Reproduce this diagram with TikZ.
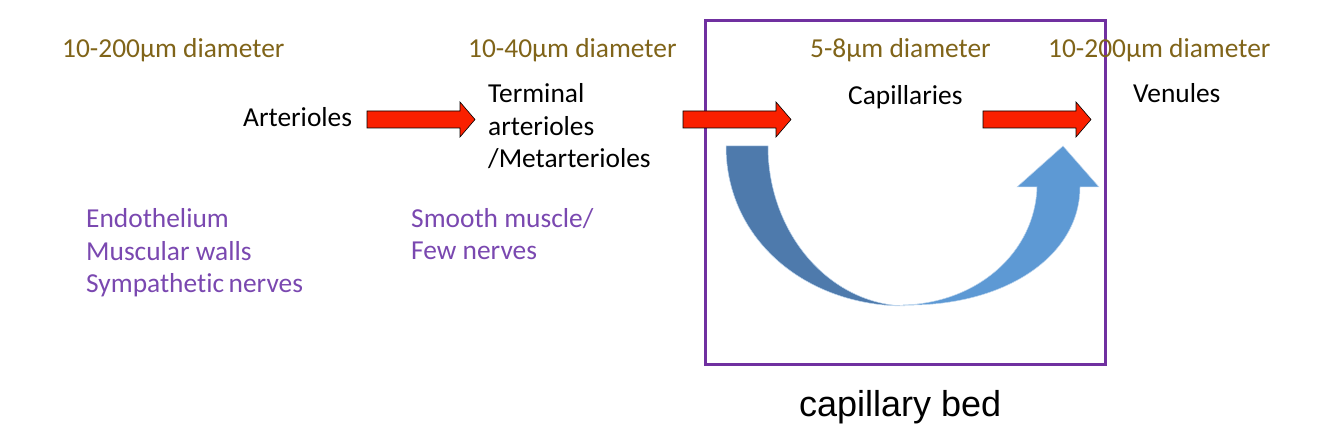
\documentclass[tikz,border=0pt]{standalone}
\usepackage{fontspec}
\setmainfont{Carlito}[Ligatures=NoCommon]
\newfontfamily\arialfont{Liberation Sans}
\usetikzlibrary{positioning}
\definecolor{diamgold}{RGB}{128,100,25}
\definecolor{wallpurple}{RGB}{122,72,176}
\definecolor{bedpurple}{RGB}{112,48,160}
\definecolor{flowred}{RGB}{250,32,0}
\definecolor{backblue}{RGB}{78,122,172}
\definecolor{frontblue}{RGB}{93,153,212}

\begin{document}
\begin{tikzpicture}[x=1pt,y=-1pt,
		txt/.style={inner sep=0pt,anchor=base west,font=\fontsize{27.4}{32.5}\selectfont},
		diam/.style={txt,text=diamgold},
		vessel/.style={txt,text=black,align=left},
		wall/.style={txt,text=wallpurple,align=left},
		redarrow/.style={fill=flowred,draw=black,line width=0.6pt,line join=miter},
		bluepart/.style={draw=white!60!frontblue,line width=0.5pt}]
		\useasboundingbox (0,0) rectangle (1334,446);

		% capillary bed frame
		\node (bed)[draw=bedpurple,line width=3pt,rectangle,minimum width=400,minimum height=344,inner sep=0pt] at (905,193) {};
		\node (bedlabel)[inner sep=0pt,anchor=base west,font=\arialfont\fontsize{36}{40}\selectfont] at (799,417) {capillary bed};

		% diameters
		\node (diamA)[diam] at (62,58) {10-200µm diameter};
		\node (diamT)[diam] at (468,58) {10-40µm diameter};
		\node (diamC)[diam] at (810,58) {5-8µm diameter};
		\node (diamV)[diam] at (1048,58) {10-200µm diameter};

		% vessels (multi-line nodes sit on their last line)
		\node (arterioles)[vessel] at (243,127) {Arterioles};
		\node (terminal)  [vessel] at (488,168) {Terminal\\arterioles\\/Metarterioles};
		\node (capillaries)[vessel] at (848,105) {Capillaries};
		\node (venules)   [vessel] at (1133,103) {Venules};

		% walls
		\node (wallA)[wall] at (86,293) {Endothelium\\Muscular walls\\Sympathetic\,nerves};
		\node (wallT)[wall] at (411,260) {Smooth muscle/\\Few nerves};

		% flow arrows
		\foreach \x in {367,683,983}
			\draw[redarrow] (\x,111) -- ++(93,0) -- ++(0,-9) -- ++(15,17.5) -- ++(-15,17.5) -- ++(0,-9) -- ++(-93,0) -- cycle;

		% curved arrow through the bed
		\filldraw[bluepart,fill=backblue] (726,146) .. controls (726,240) and (806,306) .. (905,306)
			.. controls (829,304) and (768,233) .. (768,146) -- cycle;
		\filldraw[bluepart,fill=frontblue] (903,305) .. controls (1005,307) and (1080,256) .. (1080,187)
			-- (1099,187) -- (1063,146) -- (1017,187) -- (1037,187)
			.. controls (1035,252) and (978,303) .. (903,305) -- cycle;
	\end{tikzpicture}
\end{document}
